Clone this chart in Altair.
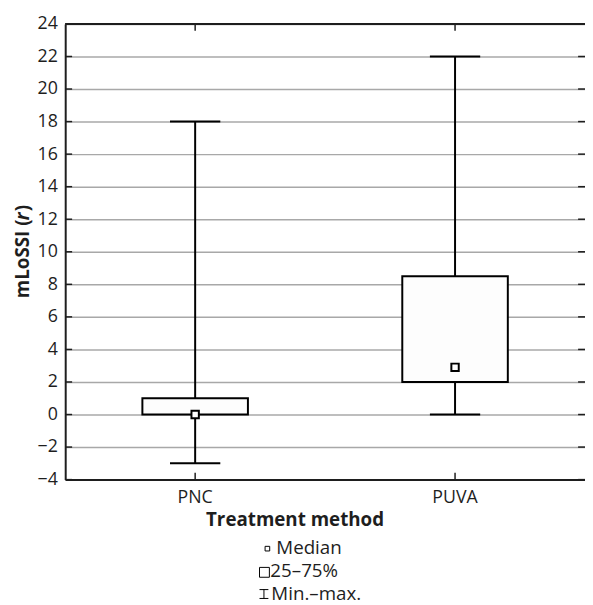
import altair as alt
import pandas as pd

# ---- data ----
categories = ["PNC", "PUVA"]
mins = [-3, 0]
q1s = [0, 2]
medians = [0, 2.9]
q3s = [1, 8.5]
maxs = [18, 22]
y_ticks = list(range(-4, 25, 2))
legend_labels = ["Median", "25–75%", "Min.–max."]
x_title = "Treatment method"
y_title_parts = ["mLoSSI (", "r", ")"]

df = pd.DataFrame({"method": categories, "min": mins, "q1": q1s,
                   "median": medians, "q3": q3s, "max": maxs})
tick_df = pd.DataFrame({"v": y_ticks})

W, H = 527, 462
FONT = "Open Sans"
INK = "#1e1e1e"

xscale = alt.Scale(type="band", domain=categories, paddingInner=0, paddingOuter=0)
xaxis = alt.Axis(title=None, labelAngle=0, ticks=False, tickSize=0, labelFontSize=18,
                 labelFont=FONT, labelColor=INK, labelPadding=23, labelBaseline="alphabetic",
                 domainColor=INK, domainWidth=2, grid=False)
yscale = alt.Scale(domain=[-4, 24], nice=False, zero=False)
yaxis = alt.Axis(title=None, values=y_ticks, ticks=False, tickSize=0, labelFontSize=18,
                 labelFont=FONT, labelColor=INK, labelPadding=8, grid=True,
                 gridColor="#a8a8a8", gridWidth=1.5, domainColor=INK, domainWidth=2)


def X(f="method:N"):
    return alt.X(f, scale=xscale, axis=xaxis)


def Y(f):
    return alt.Y(f, scale=yscale, axis=yaxis)


base = alt.Chart(df)

whisker = base.mark_rule(color="black", strokeWidth=2).encode(
    x=X(), y=Y("min:Q"), y2="max:Q")
cap_lo = base.mark_tick(color="black", size=51, thickness=2, opacity=1).encode(
    x=X(), y=Y("min:Q"))
cap_hi = base.mark_tick(color="black", size=51, thickness=2, opacity=1).encode(
    x=X(), y=Y("max:Q"))
box = base.mark_bar(size=107, fill="#fdfdfd", stroke="black", strokeWidth=2).encode(
    x=X(), y=Y("q1:Q"), y2="q3:Q")
med = base.mark_square(size=56, fill="white", stroke="black", strokeWidth=2,
                       opacity=1, filled=False).encode(x=X(), y=Y("median:Q"))

# inward axis ticks
tk = alt.Chart(tick_df)
ytick_l = tk.mark_rule(color=INK, strokeWidth=1.5).encode(
    y=Y("v:Q"), x=alt.value(0), x2=alt.value(7))
ytick_r = tk.mark_rule(color=INK, strokeWidth=1.5).encode(
    y=Y("v:Q"), x=alt.value(W - 7), x2=alt.value(W))
xtick_b = base.mark_rule(color=INK, strokeWidth=1.5).encode(
    x=X(), y=alt.value(H), y2=alt.value(H - 7))
xtick_t = base.mark_rule(color=INK, strokeWidth=1.5).encode(
    x=X(), y=alt.value(0), y2=alt.value(7))
one = alt.Data(values=[{"k": 1}])
top_frame = alt.Chart(one).mark_rule(color=INK, strokeWidth=2).encode(
    x=alt.value(0), x2=alt.value(W), y=alt.value(0))

# titles
def txt(s, x, y, **kw):
    return alt.Chart(one).mark_text(text=s, font=FONT, color=INK, **kw).encode(
        x=alt.value(x), y=alt.value(y))

xt = txt(x_title, 233, 509, fontSize=19, fontWeight="bold", align="center",
         baseline="alphabetic")
yt1 = txt(y_title_parts[0], -37, 278, fontSize=19, fontWeight="bold", angle=270,
          align="left", baseline="alphabetic")
yt2 = txt(y_title_parts[1], -37, 199, fontSize=19, fontWeight="bold", fontStyle="italic",
          angle=270, align="left", baseline="alphabetic")
yt3 = txt(y_title_parts[2], -37, 190, fontSize=19, fontWeight="bold", angle=270,
          align="left", baseline="alphabetic")

# legend
lg_sq1 = alt.Chart(one).mark_square(size=22, fill="white", stroke="black", strokeWidth=1,
                                    opacity=1).encode(x=alt.value(205), y=alt.value(532))
lg_sq2 = alt.Chart(one).mark_square(size=100, fill="white", stroke="black", strokeWidth=1,
                                    opacity=1).encode(x=alt.value(202), y=alt.value(556))
lg_i1 = alt.Chart(one).mark_rule(color="black", strokeWidth=1).encode(
    x=alt.value(201.5), y=alt.value(573), y2=alt.value(583))
lg_i2 = alt.Chart(one).mark_rule(color="black", strokeWidth=1).encode(
    x=alt.value(197), x2=alt.value(206), y=alt.value(573.5))
lg_i3 = alt.Chart(one).mark_rule(color="black", strokeWidth=1).encode(
    x=alt.value(197), x2=alt.value(206), y=alt.value(582.5))
lg_t1 = txt(legend_labels[0], 214, 537, fontSize=19, align="left", baseline="alphabetic")
lg_t2 = txt(legend_labels[1], 208, 561, fontSize=19, align="left", baseline="alphabetic")
lg_t3 = txt(legend_labels[2], 209, 584, fontSize=19, align="left", baseline="alphabetic")

chart = alt.layer(
    whisker, cap_lo, cap_hi, box, med,
    ytick_l, ytick_r, xtick_b, xtick_t, top_frame,
    xt, yt1, yt2, yt3,
    lg_sq1, lg_sq2, lg_i1, lg_i2, lg_i3, lg_t1, lg_t2, lg_t3,
).properties(
    width=W, height=H,
    autosize=alt.AutoSizeParams(type="none"),
    padding={"left": 58, "top": 12, "right": 0, "bottom": 125},
).configure_view(stroke=None).configure(background="white")

chart.save("out.html", embed_options={"renderer": "svg", "actions": False})
